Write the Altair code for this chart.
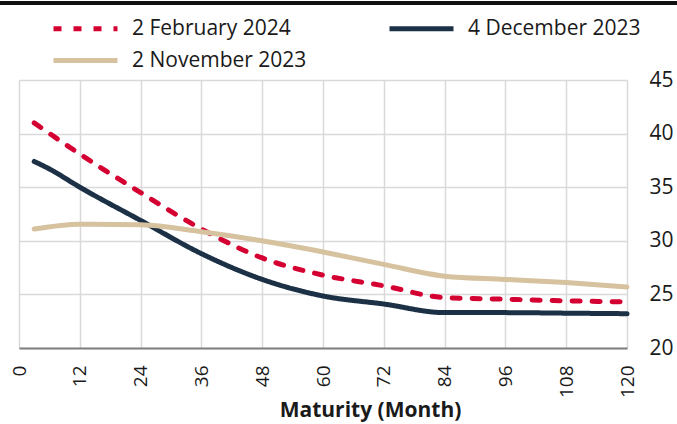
import altair as alt
import pandas as pd

# Yield curves by maturity (months)
series_names = ["2 February 2024", "4 December 2023", "2 November 2023"]
series_colors = ["#D50032", "#1C3046", "#D6C29F"]
series_dashes = [[8, 12], [1, 0], [1, 0]]

months_feb = [3, 12, 24, 36, 48, 60, 72, 84, 96, 108, 120]
feb_2024 = [41.0, 38.1, 34.5, 31.1, 28.4, 26.8, 25.8, 24.7, 24.55, 24.4, 24.3]

months_dec = [3, 6, 12, 24, 36, 48, 60, 72, 84, 96, 108, 120]
dec_2023 = [37.4, 36.7, 35.0, 31.9, 28.8, 26.4, 24.85, 24.1, 23.3, 23.3, 23.25, 23.2]

months_nov = [3, 12, 24, 36, 48, 60, 72, 84, 96, 108, 120]
nov_2023 = [31.1, 31.55, 31.5, 30.85, 30.0, 28.95, 27.8, 26.7, 26.4, 26.1, 25.7]

x_ticks = list(range(0, 121, 12))
y_ticks = [20, 25, 30, 35, 40, 45]

rows = []
for name, months, vals in [
    (series_names[0], months_feb, feb_2024),
    (series_names[1], months_dec, dec_2023),
    (series_names[2], months_nov, nov_2023),
]:
    for m, v in zip(months, vals):
        rows.append({"series": name, "maturity": m, "yield": v})
df = pd.DataFrame(rows)

FONT = "Open Sans"
TEXT = "#1A1A1A"


def legend_row(legend_y, col_pad):
    return alt.Legend(
        title=None,
        orient="none",
        direction="horizontal",
        legendX=32,
        legendY=legend_y,
        columnPadding=col_pad,
        symbolType="stroke",
        symbolSize=4096,
        symbolStrokeWidth=5,
        labelOffset=12,
        labelFont=FONT,
        labelFontSize=21,
        labelColor=TEXT,
        labelLimit=300,
    )


x_enc = alt.X(
    "maturity:Q",
    scale=alt.Scale(domain=[0, 120], nice=False, zero=False),
    axis=alt.Axis(
        values=x_ticks,
        title="Maturity (Month)",
        titleFont=FONT,
        titleFontSize=21,
        titleFontWeight="bold",
        titleColor=TEXT,
        titlePadding=2,
        titleX=351,
        labelAngle=270,
        labelFont=FONT,
        labelFontSize=19,
        labelColor=TEXT,
        labelPadding=17,
        ticks=False,
        domainColor="#7F7F7F",
        domainWidth=2,
        grid=True,
        gridColor="#D9D9D9",
        gridWidth=1.5,
    ),
)
y_enc = alt.Y(
    "yield:Q",
    scale=alt.Scale(domain=[20, 45], nice=False, zero=False),
    axis=alt.Axis(
        values=y_ticks,
        title=None,
        orient="right",
        labelFont=FONT,
        labelFontSize=21,
        labelColor=TEXT,
        labelPadding=22,
        ticks=False,
        domain=False,
        grid=True,
        gridColor="#D9D9D9",
        gridWidth=1.5,
    ),
)

# First legend row: February and December curves
recent = (
    alt.Chart(df)
    .transform_filter(alt.FieldOneOfPredicate(field="series", oneOf=series_names[:2]))
    .mark_line(strokeWidth=5, strokeCap="round", interpolate="monotone")
    .encode(
        x=x_enc,
        y=y_enc,
        color=alt.Color(
            "series:N",
            scale=alt.Scale(domain=series_names[:2], range=series_colors[:2]),
            legend=legend_row(-86, 88),
        ),
        strokeDash=alt.StrokeDash(
            "series:N",
            scale=alt.Scale(domain=series_names[:2], range=series_dashes[:2]),
            legend=None,
        ),
    )
)

# Second legend row: November curve, drawn on top
november = (
    alt.Chart(df)
    .transform_filter(alt.datum.series == series_names[2])
    .mark_line(strokeWidth=5, strokeCap="round", interpolate="monotone")
    .encode(
        x=x_enc,
        y=y_enc,
        color=alt.Color(
            "series:N",
            scale=alt.Scale(domain=series_names[2:], range=series_colors[2:]),
            legend=legend_row(-54, 10),
        ),
    )
)

top_rule = alt.Chart(df).mark_rule(color="#111111", strokeWidth=3).encode(
    x=alt.value(-19), x2=alt.value(660), y=alt.value(-77)
)

chart = (
    alt.layer(recent, november, top_rule)
    .resolve_scale(color="independent", strokeDash="independent")
    .properties(
        width=608,
        height=268,
        autosize=alt.AutoSizeParams(type="none"),
        padding={"left": 19, "top": 80, "right": 50, "bottom": 76},
        background="white",
    )
    .configure_view(strokeWidth=0)
)

chart.save("out.html", embed_options={"renderer": "svg", "actions": False})
